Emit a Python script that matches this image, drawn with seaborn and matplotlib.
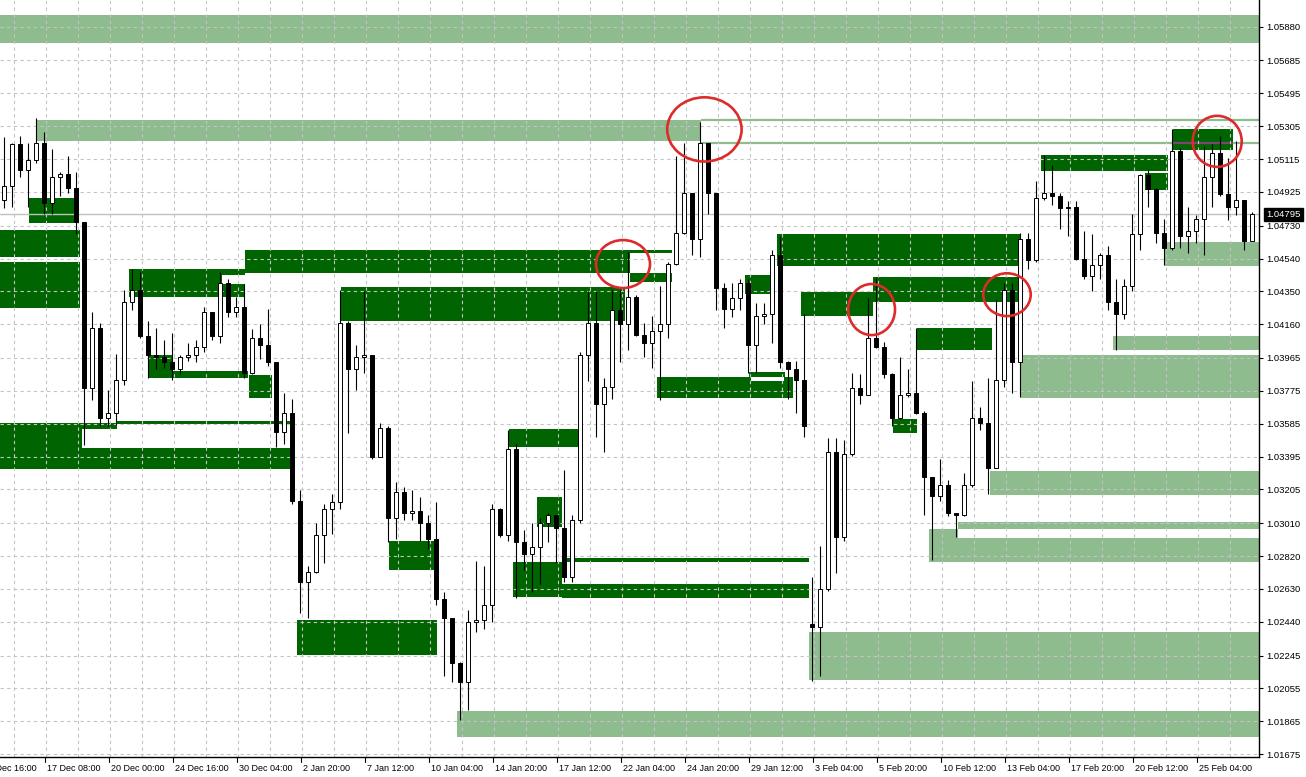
import matplotlib
matplotlib.use("Agg")
import matplotlib.pyplot as plt
import matplotlib.transforms as mtransforms
from matplotlib.patches import Rectangle, Ellipse
import numpy as np
import seaborn as sns

# EURUSD candles (two H4 bars merged per candle)
opens = [1.0488, 1.0496, 1.0520, 1.0505, 1.0511, 1.0521, 1.0486, 1.0501, 1.0503, 1.0495,
         1.0475, 1.0379, 1.0414, 1.0362, 1.0365, 1.0384, 1.0429, 1.0436, 1.0409, 1.0398,
         1.0397, 1.0394, 1.0390, 1.0397, 1.0398, 1.0403, 1.0423, 1.0409, 1.0440, 1.0423,
         1.0426, 1.0388, 1.0408, 1.0404, 1.0394, 1.0354, 1.0365, 1.0314, 1.0267, 1.0273,
         1.0294, 1.0309, 1.0313, 1.0417, 1.0390, 1.0397, 1.0398, 1.0339, 1.0356, 1.0304,
         1.0319, 1.0307, 1.0308, 1.0301, 1.0292, 1.0257, 1.0246, 1.0220, 1.0209, 1.0244,
         1.0245, 1.0254, 1.0309, 1.0294, 1.0344, 1.0290, 1.0283, 1.0287, 1.0301, 1.0306,
         1.0298, 1.0270, 1.0303, 1.0398, 1.0417, 1.0370, 1.0380, 1.0424, 1.0416, 1.0432,
         1.0410, 1.0405, 1.0412, 1.0416, 1.0451, 1.0469, 1.0492, 1.0465, 1.0521, 1.0492,
         1.0437, 1.0425, 1.0431, 1.0440, 1.0404, 1.0421, 1.0422, 1.0456, 1.0394, 1.0390,
         1.0384, 1.0243, 1.0241, 1.0263, 1.0342, 1.0293, 1.0341, 1.0379, 1.0375, 1.0408,
         1.0403, 1.0387, 1.0362, 1.0375, 1.0376, 1.0365, 1.0328, 1.0317, 1.0323, 1.0307,
         1.0306, 1.0323, 1.0362, 1.0359, 1.0333, 1.0384, 1.0436, 1.0394, 1.0465, 1.0453,
         1.0489, 1.0492, 1.0490, 1.0483, 1.0484, 1.0454, 1.0444, 1.0450, 1.0456, 1.0429,
         1.0422, 1.0438, 1.0468, 1.0502, 1.0494, 1.0469, 1.0460, 1.0516, 1.0467, 1.0470,
         1.0477, 1.0501, 1.0515, 1.0491, 1.0484, 1.0488, 1.0464]
highs = [1.0524, 1.0521, 1.0525, 1.0521, 1.0535, 1.0527, 1.0517, 1.0504, 1.0513, 1.0504,
         1.0475, 1.0423, 1.0417, 1.0378, 1.0399, 1.0436, 1.0448, 1.0446, 1.0418, 1.0414,
         1.0407, 1.0411, 1.0398, 1.0405, 1.0407, 1.0426, 1.0423, 1.0446, 1.0442, 1.0432,
         1.0439, 1.0413, 1.0416, 1.0425, 1.0394, 1.0376, 1.0373, 1.0320, 1.0276, 1.0301,
         1.0312, 1.0318, 1.0436, 1.0418, 1.0404, 1.0435, 1.0398, 1.0359, 1.0357, 1.0325,
         1.0322, 1.0320, 1.0316, 1.0306, 1.0313, 1.0261, 1.0246, 1.0221, 1.0251, 1.0279,
         1.0276, 1.0312, 1.0310, 1.0355, 1.0347, 1.0297, 1.0301, 1.0304, 1.0307, 1.0306,
         1.0332, 1.0306, 1.0400, 1.0435, 1.0435, 1.0385, 1.0436, 1.0436, 1.0458, 1.0433,
         1.0417, 1.0421, 1.0438, 1.0452, 1.0513, 1.0521, 1.0492, 1.0533, 1.0521, 1.0492,
         1.0440, 1.0440, 1.0442, 1.0442, 1.0428, 1.0428, 1.0459, 1.0467, 1.0395, 1.0395,
         1.0422, 1.0270, 1.0288, 1.0350, 1.0350, 1.0349, 1.0388, 1.0387, 1.0431, 1.0443,
         1.0406, 1.0388, 1.0397, 1.0390, 1.0414, 1.0366, 1.0328, 1.0338, 1.0326, 1.0307,
         1.0330, 1.0383, 1.0368, 1.0385, 1.0430, 1.0440, 1.0440, 1.0469, 1.0469, 1.0499,
         1.0514, 1.0508, 1.0492, 1.0487, 1.0487, 1.0470, 1.0468, 1.0457, 1.0461, 1.0442,
         1.0442, 1.0480, 1.0503, 1.0505, 1.0495, 1.0477, 1.0529, 1.0518, 1.0484, 1.0479,
         1.0519, 1.0520, 1.0525, 1.0512, 1.0522, 1.0488, 1.0481]
lows = [1.0483, 1.0484, 1.0501, 1.0484, 1.0509, 1.0480, 1.0480, 1.0490, 1.0492, 1.0468,
        1.0346, 1.0372, 1.0357, 1.0357, 1.0358, 1.0381, 1.0424, 1.0408, 1.0385, 1.0390,
        1.0391, 1.0384, 1.0387, 1.0395, 1.0394, 1.0400, 1.0407, 1.0405, 1.0420, 1.0420,
        1.0385, 1.0387, 1.0396, 1.0392, 1.0345, 1.0347, 1.0312, 1.0249, 1.0246, 1.0272,
        1.0278, 1.0295, 1.0309, 1.0353, 1.0378, 1.0388, 1.0338, 1.0339, 1.0290, 1.0292,
        1.0303, 1.0303, 1.0291, 1.0286, 1.0254, 1.0213, 1.0209, 1.0187, 1.0193, 1.0238,
        1.0240, 1.0244, 1.0293, 1.0291, 1.0258, 1.0274, 1.0261, 1.0266, 1.0290, 1.0278,
        1.0267, 1.0267, 1.0301, 1.0383, 1.0351, 1.0342, 1.0373, 1.0394, 1.0401, 1.0409,
        1.0397, 1.0391, 1.0372, 1.0408, 1.0450, 1.0468, 1.0456, 1.0455, 1.0480, 1.0424,
        1.0414, 1.0420, 1.0424, 1.0388, 1.0388, 1.0416, 1.0405, 1.0391, 1.0373, 1.0365,
        1.0351, 1.0210, 1.0213, 1.0262, 1.0272, 1.0291, 1.0340, 1.0370, 1.0375, 1.0402,
        1.0385, 1.0357, 1.0361, 1.0374, 1.0364, 1.0306, 1.0280, 1.0314, 1.0305, 1.0293,
        1.0305, 1.0322, 1.0355, 1.0318, 1.0333, 1.0380, 1.0376, 1.0374, 1.0448, 1.0452,
        1.0488, 1.0485, 1.0471, 1.0467, 1.0453, 1.0442, 1.0435, 1.0442, 1.0424, 1.0401,
        1.0419, 1.0435, 1.0459, 1.0484, 1.0463, 1.0450, 1.0459, 1.0460, 1.0457, 1.0463,
        1.0456, 1.0484, 1.0490, 1.0476, 1.0479, 1.0459, 1.0464]
closes = [1.0496, 1.0520, 1.0505, 1.0511, 1.0521, 1.0486, 1.0501, 1.0503, 1.0495, 1.0475,
          1.0379, 1.0414, 1.0362, 1.0365, 1.0384, 1.0429, 1.0436, 1.0409, 1.0398, 1.0397,
          1.0394, 1.0390, 1.0397, 1.0398, 1.0403, 1.0423, 1.0409, 1.0440, 1.0423, 1.0426,
          1.0388, 1.0408, 1.0404, 1.0394, 1.0354, 1.0365, 1.0314, 1.0267, 1.0273, 1.0294,
          1.0309, 1.0313, 1.0417, 1.0390, 1.0397, 1.0398, 1.0339, 1.0356, 1.0304, 1.0319,
          1.0307, 1.0308, 1.0301, 1.0292, 1.0257, 1.0246, 1.0220, 1.0209, 1.0244, 1.0245,
          1.0254, 1.0309, 1.0294, 1.0344, 1.0290, 1.0283, 1.0287, 1.0301, 1.0306, 1.0298,
          1.0270, 1.0303, 1.0398, 1.0417, 1.0370, 1.0380, 1.0424, 1.0416, 1.0432, 1.0410,
          1.0405, 1.0412, 1.0416, 1.0451, 1.0469, 1.0492, 1.0465, 1.0521, 1.0492, 1.0437,
          1.0425, 1.0431, 1.0440, 1.0404, 1.0421, 1.0422, 1.0456, 1.0394, 1.0390, 1.0384,
          1.0357, 1.0241, 1.0263, 1.0342, 1.0293, 1.0341, 1.0379, 1.0375, 1.0408, 1.0403,
          1.0387, 1.0362, 1.0375, 1.0376, 1.0365, 1.0328, 1.0317, 1.0323, 1.0307, 1.0306,
          1.0323, 1.0362, 1.0359, 1.0333, 1.0384, 1.0436, 1.0394, 1.0465, 1.0453, 1.0489,
          1.0492, 1.0490, 1.0483, 1.0484, 1.0454, 1.0444, 1.0450, 1.0456, 1.0429, 1.0422,
          1.0438, 1.0468, 1.0502, 1.0494, 1.0469, 1.0460, 1.0516, 1.0467, 1.0470, 1.0477,
          1.0501, 1.0515, 1.0491, 1.0484, 1.0488, 1.0464, 1.04795]
last_price = 1.04795

price_ticks = [1.05880, 1.05685, 1.05495, 1.05305, 1.05115, 1.04925, 1.04730, 1.04540,
               1.04350, 1.04160, 1.03965, 1.03775, 1.03585, 1.03395, 1.03205, 1.03010,
               1.02820, 1.02630, 1.02440, 1.02245, 1.02055, 1.01865, 1.01675]
time_labels = ["12 Dec 16:00", "17 Dec 08:00", "20 Dec 00:00", "24 Dec 16:00", "30 Dec 04:00",
               "2 Jan 20:00", "7 Jan 12:00", "10 Jan 04:00", "14 Jan 20:00", "17 Jan 12:00",
               "22 Jan 04:00", "24 Jan 20:00", "29 Jan 12:00", "3 Feb 04:00", "5 Feb 20:00",
               "10 Feb 12:00", "13 Feb 04:00", "17 Feb 20:00", "20 Feb 12:00", "25 Feb 04:00"]

# supply/demand zones: start/end in H4 bars, top/bottom price
zone_left = [0, 9.25, 114.25, 202.25, 255.25, 247.5, 239.5, 232.25, 239.5, 291.25, 278.25,
             7.25, 0, 0, 0, 20.5, 29.25, 20.5, 32.25, 55.5, 55.5, 61.25, 157.5, 157.5, 85.25,
             97.25, 74.25, 127.25, 134.25, 128.25, 140.5, 140.5, 164.25, 187.25, 186.25,
             194.25, 200.25, 218.25, 229.25, 223.25, 260.25, 286.25, 293.25, 37.25, 43.25,
             62.25, 187.75]
zone_right = [320, 175.25, 320, 320, 320, 320, 320, 239.5, 320, 320, 320,
              19.25, 20, 20, 20.5, 29.25, 73, 73, 55.5, 61.25, 61.25, 157.5, 168, 168, 156.25,
              109.25, 109.25, 145, 140.5, 140.5, 202.25, 202.25, 198.25, 196.25, 193,
              255.25, 218.25, 255.25, 248, 229.25, 292, 292, 308.25, 43.25, 62,
              68, 196]
zone_top = [1.05950, 1.05343, 1.01924, 1.02379, 1.03982, 1.03313, 1.03020, 1.02979, 1.02927,
            1.04634, 1.04094,
            1.04887, 1.04702, 1.04520, 1.03587, 1.03587, 1.03598, 1.03445, 1.04477, 1.04477,
            1.04392, 1.04589, 1.04589, 1.04454, 1.04373, 1.02909, 1.02450, 1.03553, 1.03163,
            1.02787, 1.02809, 1.02659, 1.03857, 1.03886, 1.04445, 1.04682, 1.04348, 1.04435,
            1.04136, 1.03610, 1.05140, 1.05034, 1.05289, 1.03982, 1.03890, 1.03867,
            1.03855]
zone_bottom = [1.05787, 1.05219, 1.01775, 1.02104, 1.03734, 1.03172, 1.02979, 1.02788, 1.02788,
               1.04499, 1.04010,
               1.04746, 1.04549, 1.04254, 1.03326, 1.03553, 1.03583, 1.03326, 1.04320, 1.04445,
               1.04320, 1.04458, 1.04572, 1.04406, 1.04180, 1.02739, 1.02248, 1.03452, 1.02990,
               1.02585, 1.02786, 1.02580, 1.03732, 1.03857, 1.04335, 1.04497, 1.04208, 1.04290,
               1.04011, 1.03533, 1.05044, 1.04938, 1.05168, 1.03847, 1.03847, 1.03732,
               1.03834]
zone_kind = ["light"] * 11 + ["dark"] * 35 + ["white"]

# broken zone: only its borders are left
broken_prices = [1.05340, 1.05210]
broken_start = 175.25

# red circles: centre bar, centre price, width (bars), height (price)
circle_x = [176.1, 155.75, 217.9, 251.75, 304.3]
circle_price = [1.05286, 1.04508, 1.04245, 1.04331, 1.05217]
circle_w = [18.6, 13.5, 11.7, 11.85, 12.25]
circle_h = [0.00371, 0.00277, 0.00295, 0.00247, 0.00295]

sns.set_theme(style="white")
plt.rcParams["font.family"] = ["Liberation Sans", "DejaVu Sans"]

W, H = 1306, 777
fig = plt.figure(figsize=(W / 100, H / 100), dpi=100)
ax = fig.add_axes([0, 20 / H, 1259 / W, 757 / H])
ax.set_xlim(0, 314.75)
ax.set_ylim(1.01659, 1.06034)

colors = {"light": "#8fbc8f", "dark": "#006400", "white": "white"}
for x0, x1, top, bot, kind in zip(zone_left, zone_right, zone_top, zone_bottom, zone_kind):
    ax.add_patch(Rectangle((x0, bot), x1 - x0, top - bot, facecolor=colors[kind],
                           lw=0, zorder=1 if kind == "light" else 1.5))

ax.hlines(broken_prices, broken_start, 320, color="#8fbc8f", lw=1.6, zorder=1.2)
ax.hlines(1.05210, 293.25, 308.25, color="#7a4673", lw=1.6, zorder=1.6)

# dashed grid
for p in price_ticks:
    ax.axhline(p, color="#c4c4c4", lw=0.8, ls=(0, (3, 3)), zorder=2)
for gx in np.arange(3.4, 314.75, 8):
    ax.axvline(gx, color="#c4c4c4", lw=0.8, ls=(0, (3, 3)), zorder=2)
ax.axhline(last_price, color="#c0c0c0", lw=1.0, zorder=2.2)

# candles
o = np.array(opens)
c = np.array(closes)
xs = np.arange(len(opens)) * 2 + 1
ax.vlines(xs, lows, highs, color="black", lw=0.8, zorder=3)
body_low = np.minimum(o, c)
body_h = np.maximum(np.abs(c - o), 0.00004)
face = np.where(c >= o, "white", "black")
ax.bar(xs, body_h, bottom=body_low, width=1.1, color=face, edgecolor="black",
       linewidth=0.7, zorder=4)

for cx, cy, cw, ch in zip(circle_x, circle_price, circle_w, circle_h):
    ax.add_patch(Ellipse((cx, cy), cw, ch, fill=False, edgecolor="#dd2a2a", lw=1.9, zorder=5))

# axes look
sns.despine(ax=ax, left=True, top=True, right=False, bottom=False)
for side in ("right", "bottom"):
    ax.spines[side].set_color("black")
    ax.spines[side].set_linewidth(1.0)
ax.grid(False)

ax.yaxis.tick_right()
ax.set_yticks(price_ticks)
ax.set_yticklabels([f"{p:.5f}" for p in price_ticks])
ax.tick_params(axis="y", right=True, left=False, labelright=True, labelleft=False,
               length=3, width=0.8, pad=2, labelsize=6.8, colors="black")
ax.set_xticks([])

trans = mtransforms.blended_transform_factory(ax.transData, ax.transAxes)
first_tick = -4.675
for m, lab in enumerate(time_labels):
    pos = first_tick + 16 * m
    ax.plot([pos, pos], [0, -0.007], transform=trans, color="black", lw=0.8, clip_on=False)
    ax.text(pos + 0.5, -0.009, lab, transform=trans, ha="left", va="top",
            fontsize=6.5, color="black", clip_on=False)

ptrans = mtransforms.blended_transform_factory(ax.transAxes, ax.transData)
ax.text(1.0055, last_price, f"{last_price:.5f}", transform=ptrans, ha="left", va="center",
        fontsize=6.8, color="white", zorder=10, clip_on=False,
        bbox=dict(boxstyle="square,pad=0.25", facecolor="black", edgecolor="black"))

fig.savefig("out.png", dpi=100, facecolor="white")
